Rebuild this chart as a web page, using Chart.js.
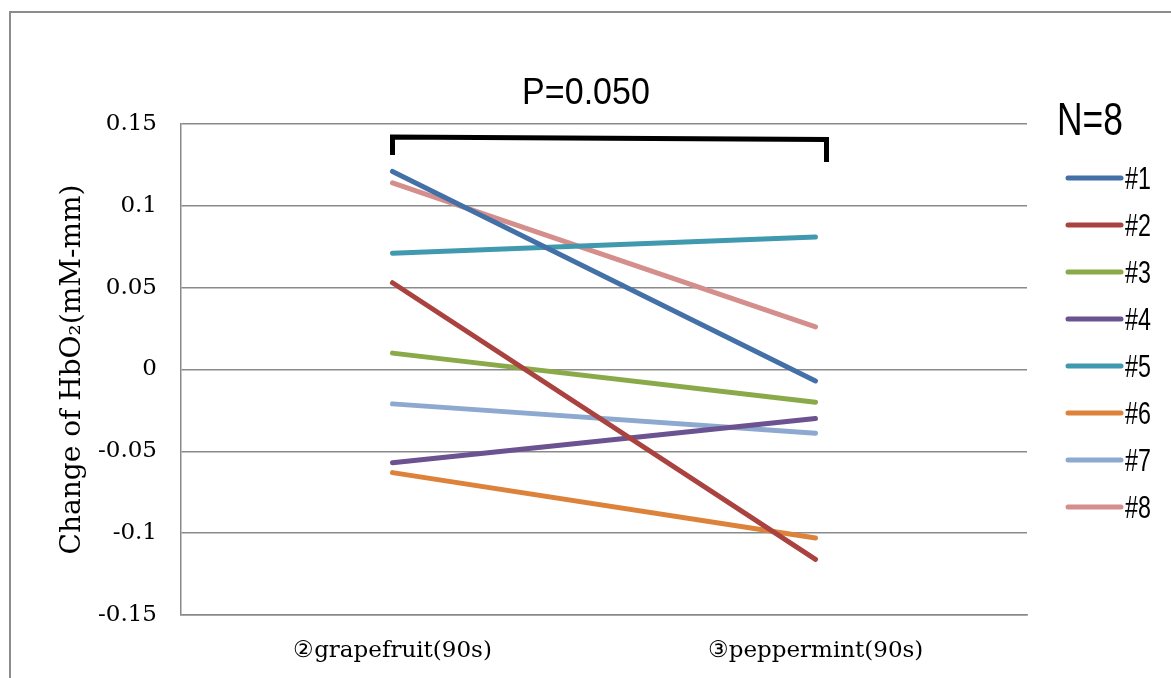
<!DOCTYPE html>
<html>
<head>
<meta charset="utf-8">
<script src="https://cdn.jsdelivr.net/npm/chart.js@4.4.1/dist/chart.umd.min.js"></script>
<style>
  html, body { margin: 0; padding: 0; background: #fff; }
  canvas { display: block; }
</style>
</head>
<body>
<canvas id="chart" width="1171" height="678"></canvas>
<script>
// Data
const categories = ["②grapefruit(90s)", "③peppermint(90s)"];
const seriesNames = ["#1", "#2", "#3", "#4", "#5", "#6", "#7", "#8"];
const s1 = [0.121, -0.007];
const s2 = [0.053, -0.116];
const s3 = [0.010, -0.020];
const s4 = [-0.057, -0.030];
const s5 = [0.071, 0.081];
const s6 = [-0.063, -0.103];
const s7 = [-0.021, -0.039];
const s8 = [0.114, 0.026];
const yTicks = [-0.15, -0.1, -0.05, 0, 0.05, 0.1, 0.15];
const pLabel = "P=0.050";
const nLabel = "N=8";

// Colours (Excel style)
const colors = ["#4470a8", "#aa423f", "#8aaa4a", "#6b5290", "#4099af", "#dd823a", "#8ea9d0", "#d48e8c"];

const allSeries = [s1, s2, s3, s4, s5, s6, s7, s8];
const datasets = allSeries.map((vals, i) => ({
  label: seriesNames[i],
  data: vals,
  borderColor: colors[i],
  backgroundColor: colors[i],
  borderWidth: 5,
  borderCapStyle: "round",
  pointRadius: 0,
  tension: 0
}));

const W = 1171, H = 678;
const areaTop = 124, areaBottom = 615, areaLeft = 181, areaRight = 1027;

// Outer frame, bracket, P label, legend
const extras = {
  id: "extras",
  beforeDraw(chart) {
    const ctx = chart.ctx;
    ctx.save();
    ctx.strokeStyle = "#8c8c8c";
    ctx.lineWidth = 2;
    ctx.strokeRect(10, 12, W + 20, H + 20);
    ctx.restore();
  },
  afterDatasetsDraw(chart) {
    const ctx = chart.ctx;
    const x = chart.scales.x;
    const xl = x.getPixelForValue(0);
    const xr = x.getPixelForValue(1) + 11;

    // significance bracket
    ctx.save();
    ctx.strokeStyle = "#000";
    ctx.lineWidth = 5;
    ctx.lineJoin = "miter";
    ctx.beginPath();
    ctx.moveTo(xl, 155);
    ctx.lineTo(xl, 137);
    ctx.lineTo(xr, 139.5);
    ctx.lineTo(xr, 162);
    ctx.stroke();

    ctx.fillStyle = "#000";
    ctx.save();
    ctx.translate(586, 104);
    ctx.scale(0.92, 1);
    ctx.font = "37px 'Liberation Sans', Arial, sans-serif";
    ctx.textAlign = "center";
    ctx.textBaseline = "alphabetic";
    ctx.fillText(pLabel, 0, 0);
    ctx.restore();

    // legend title
    ctx.save();
    ctx.translate(1057, 135);
    ctx.scale(0.77, 1);
    ctx.font = "46px 'Liberation Sans', Arial, sans-serif";
    ctx.textAlign = "left";
    ctx.fillText(nLabel, 0, 0);
    ctx.restore();

    // legend entries
    chart.data.datasets.forEach((ds, i) => {
      const y = 178 + 47 * i;
      ctx.strokeStyle = ds.borderColor;
      ctx.lineWidth = 5;
      ctx.lineCap = "round";
      ctx.beginPath();
      ctx.moveTo(1068, y);
      ctx.lineTo(1121, y);
      ctx.stroke();
      ctx.save();
      ctx.translate(1125, y + 11);
      ctx.scale(0.75, 1);
      ctx.font = "31px 'Liberation Sans', Arial, sans-serif";
      ctx.textAlign = "left";
      ctx.fillStyle = "#000";
      ctx.fillText(ds.label, 0, 0);
      ctx.restore();
    });
    ctx.restore();
  }
};

new Chart(document.getElementById("chart"), {
  type: "line",
  data: { labels: categories, datasets: datasets },
  options: {
    responsive: false,
    animation: false,
    devicePixelRatio: 1,
    layout: { padding: { top: areaTop, right: W - areaRight, left: 0, bottom: 0 } },
    plugins: {
      legend: { display: false },
      title: { display: false },
      tooltip: { enabled: false }
    },
    scales: {
      x: {
        offset: true,
        grid: { display: false, drawTicks: false },
        border: { display: true, color: "#8a8a8a", width: 1.5 },
        ticks: {
          color: "#000",
          padding: 22,
          maxRotation: 0,
          font: { family: "'DejaVu Serif', serif", size: 23 }
        },
        afterFit(scale) { scale.height = H - areaBottom; }
      },
      y: {
        min: -0.15,
        max: 0.15,
        afterBuildTicks(scale) { scale.ticks = yTicks.map(v => ({ value: v })); },
        grid: { color: "#8a8a8a", lineWidth: 1.5, drawTicks: false },
        border: { display: true, color: "#8a8a8a", width: 1.5 },
        ticks: {
          color: "#000",
          padding: 24,
          font: { family: "'DejaVu Serif', serif", size: 23 },
          callback: v => String(+Number(v).toFixed(2))
        },
        title: {
          display: true,
          text: "Change of HbO₂(mM-mm)",
          color: "#000",
          font: { family: "'DejaVu Serif', serif", size: 28 },
          padding: { top: 56, bottom: 0 }
        },
        afterFit(scale) { scale.width = areaLeft; }
      }
    }
  },
  plugins: [extras]
});
</script>
</body>
</html>
